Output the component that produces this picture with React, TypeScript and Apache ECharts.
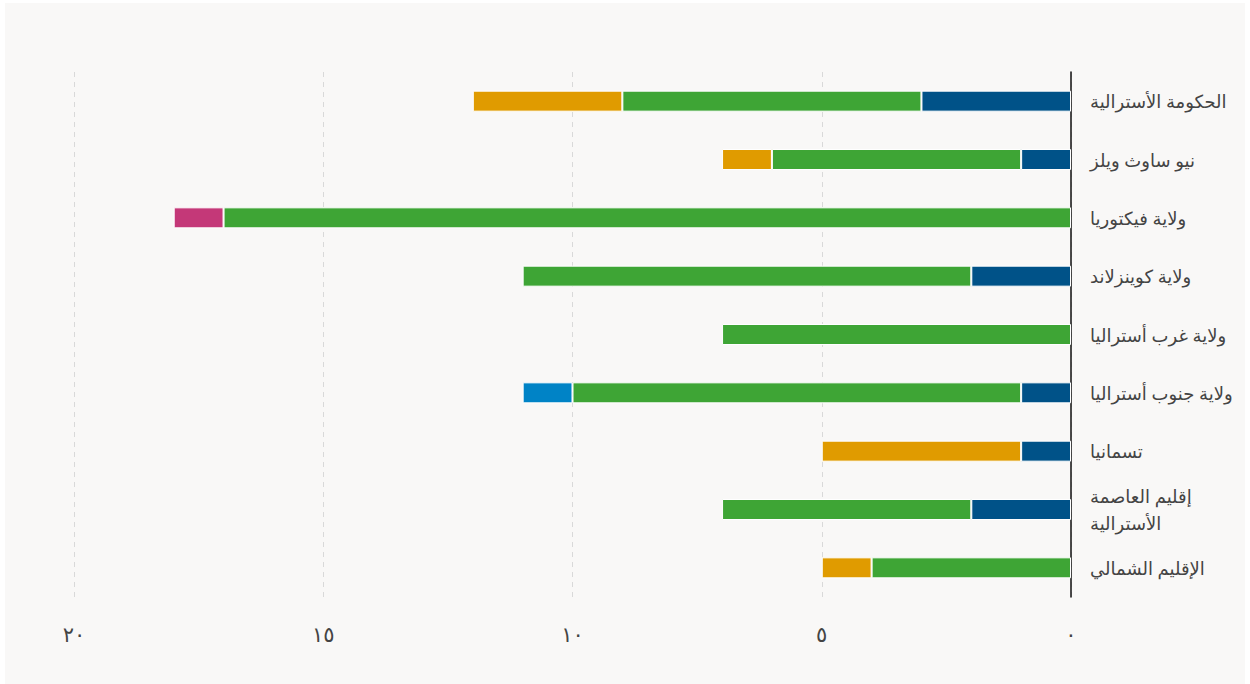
import React, { useEffect, useRef } from "react";
import * as echarts from "echarts";

const categories = [
  "الحكومة الأسترالية",
  "نيو ساوث ويلز",
  "ولاية فيكتوريا",
  "ولاية كوينزلاند",
  "ولاية غرب أستراليا",
  "ولاية جنوب أستراليا",
  "تسمانيا",
  "إقليم العاصمة\nالأسترالية",
  "الإقليم الشمالي",
];

const darkBlueValues = [3, 1, null, 2, null, 1, 1, 2, null];
const greenValues = [6, 5, 17, 9, 7, 9, null, 5, 4];
const orangeValues = [3, 1, null, null, null, null, 4, null, 1];
const pinkValues = [null, null, 1, null, null, null, null, null, null];
const lightBlueValues = [null, null, null, null, null, 1, null, null, null];

const tickLabels: Record<string, string> = {
  "0": "٠",
  "5": "٥",
  "10": "١٠",
  "15": "١٥",
  "20": "٢٠",
};

const seriesDefs = [
  { name: "أزرق داكن", data: darkBlueValues, color: "#005288" },
  { name: "أخضر", data: greenValues, color: "#3ea535" },
  { name: "برتقالي", data: orangeValues, color: "#e09b00" },
  { name: "وردي", data: pinkValues, color: "#c43878" },
  { name: "أزرق فاتح", data: lightBlueValues, color: "#0083c6" },
];

const FONT = "'Noto Sans', 'DejaVu Sans', sans-serif";

export default function App() {
  const ref = useRef<HTMLDivElement>(null);
  useEffect(() => {
    if (!ref.current) return;
    const chart = echarts.init(ref.current, null, { renderer: "svg" });
    chart.setOption({
      animation: false,
      backgroundColor: "#f9f8f7",
      textStyle: { fontFamily: FONT },
      grid: { left: 69, right: 174, top: 69, bottom: 87, containLabel: false },
      xAxis: {
        type: "value",
        inverse: true,
        min: 0,
        max: 20,
        interval: 5,
        axisLine: { show: false },
        axisTick: { show: false },
        splitLine: {
          show: true,
          lineStyle: { color: "#d9d9d9", type: [5, 5], width: 1 },
        },
        axisLabel: {
          margin: 26,
          fontSize: 21,
          color: "#444",
          fontFamily: FONT,
          formatter: (v: number) => tickLabels[String(v)] ?? String(v),
        },
      },
      yAxis: {
        type: "category",
        data: categories,
        inverse: true,
        position: "right",
        axisLine: { show: true, lineStyle: { color: "#111", width: 1.5 } },
        axisTick: { show: false },
        axisLabel: {
          margin: 19,
          fontSize: 18,
          color: "#444",
          fontFamily: FONT,
          lineHeight: 27,
        },
      },
      series: seriesDefs.map((s) => ({
        name: s.name,
        type: "bar",
        stack: "total",
        barWidth: 21,
        data: s.data.map((v) => (v == null ? "-" : v)),
        itemStyle: { color: s.color, borderColor: "#ffffff", borderWidth: 1 },
      })),
    });
    return () => chart.dispose();
  }, []);
  return (
    <div
      ref={ref}
      style={{ position: "absolute", left: 5, top: 3, width: 1240, height: 681 }}
    />
  );
}
